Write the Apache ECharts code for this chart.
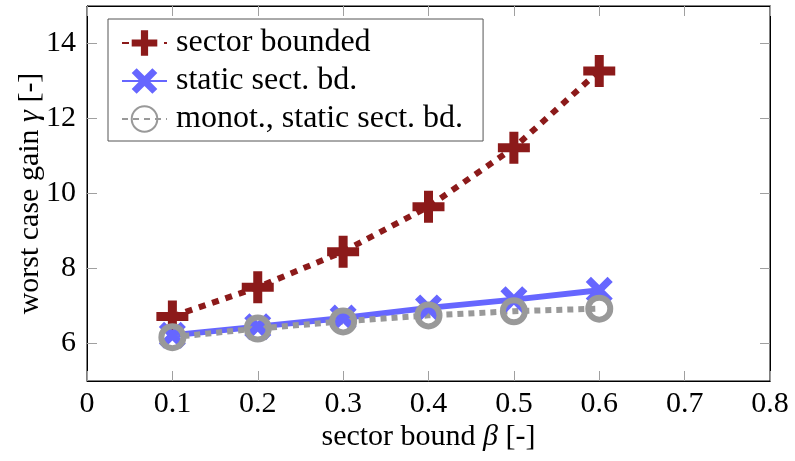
<!DOCTYPE html>
<html><head><meta charset="utf-8">
<script src="https://cdn.jsdelivr.net/npm/echarts@6/dist/echarts.min.js"></script>
<style>html,body{margin:0;padding:0;background:#fff}#c{width:795px;height:461px}</style>
</head><body><div id="c"></div>
<script>
const xValues = [0.1, 0.2, 0.3, 0.4, 0.5, 0.6];
const sectorBounded = [6.72, 7.5, 8.45, 9.65, 11.22, 13.27];
const staticSect = [6.22, 6.45, 6.68, 6.95, 7.17, 7.42];
const monotStatic = [6.17, 6.4, 6.59, 6.75, 6.86, 6.93];
const seriesNames = ['sector bounded', 'static sect. bd.', 'monot., static sect. bd.'];
const yTicks = [6, 8, 10, 12, 14];

const FONT = 'Liberation Serif';
const plusPath = 'path://M-4.5,-16h9v11.5h11.5v9h-11.5v11.5h-9v-11.5h-11.5v-9h11.5z';
const xPath = 'path://M-8,-13L0,-5L8,-13L13,-8L5,0L13,8L8,13L0,5L-8,13L-13,8L-5,0L-13,-8Z';
const pairs = arr => xValues.map((x, i) => [x, arr[i]]);

const tickLine = {color: '#a0a0a0', width: 1};
const xTick = {show: true, inside: true, length: 10, lineStyle: tickLine};
const yTick = {show: true, inside: true, length: 10, lineStyle: tickLine, customValues: yTicks};
const richName = {a: {fontFamily: FONT, fontSize: 30, color: '#000'}, b: {fontFamily: FONT, fontSize: 30, fontStyle: 'italic', color: '#000'}};
const chart = echarts.init(document.getElementById('c'));
chart.setOption({
  animation: false,
  grid: {left: 87, right: 25, top: 6, bottom: 80, show: true, borderColor: '#000', borderWidth: 1,
    containLabel: false, outerBoundsMode: 'none'},
  legend: {
    orient: 'vertical', left: 108, top: 19,
    data: seriesNames,
    itemWidth: 45, itemHeight: 32, itemGap: 6,
    padding: [8, 20, 6, 13],
    borderColor: '#555', borderWidth: 1, backgroundColor: '#fff',
    textStyle: {fontFamily: FONT, fontSize: 32, color: '#000', padding: [0, 0, 0, 4]}
  },
  xAxis: [{
    type: 'value', min: 0, max: 0.8, interval: 0.1,
    axisLine: {show: true, onZero: false, lineStyle: {color: '#000'}},
    axisTick: xTick, splitLine: {show: false},
    axisLabel: {fontFamily: FONT, fontSize: 30, color: '#000', margin: 8},
    name: '{a|sector bound }{b|β}{a| [-]}', nameLocation: 'middle', nameGap: 41, nameMoveOverlap: false,
    nameTextStyle: {rich: richName}
  }, {
    type: 'value', position: 'top', min: 0, max: 0.8, interval: 0.1,
    axisLine: {show: true, onZero: false, lineStyle: {color: '#000'}}, axisTick: xTick,
    axisLabel: {show: false}, splitLine: {show: false}
  }],
  yAxis: [{
    type: 'value', position: 'left', min: 5, max: 15,
    axisLine: {show: true, onZero: false, lineStyle: {color: '#000'}},
    axisTick: yTick, splitLine: {show: false},
    axisLabel: {fontFamily: FONT, fontSize: 30, color: '#000', margin: 11, customValues: yTicks},
    name: '{a|worst case gain }{b|γ}{a| [-]}', nameLocation: 'middle', nameGap: 42, nameRotate: 90, nameMoveOverlap: false,
    nameTextStyle: {rich: richName}
  }, {
    type: 'value', position: 'right', min: 5, max: 15,
    axisLine: {show: true, onZero: false, lineStyle: {color: '#000'}},
    axisTick: yTick, splitLine: {show: false},
    axisLabel: {show: false}
  }],
  series: [{
    name: seriesNames[0], type: 'line', data: pairs(sectorBounded),
    symbol: plusPath, symbolSize: 32,
    itemStyle: {color: '#8c1a1a'},
    lineStyle: {color: '#8c1a1a', width: 6, type: [7, 7], cap: 'butt'}
  }, {
    name: seriesNames[1], type: 'line', data: pairs(staticSect),
    symbol: xPath, symbolSize: 27,
    itemStyle: {color: '#6666ff'},
    lineStyle: {color: '#6666ff', width: 6, type: 'solid'}
  }, {
    name: seriesNames[2], type: 'line', data: pairs(monotStatic),
    symbol: 'circle', symbolSize: 22,
    itemStyle: {color: 'rgba(0,0,0,0)', borderColor: '#999999', borderWidth: 6},
    lineStyle: {color: '#999999', width: 6, type: [6, 5], cap: 'butt'}
  }]
});
</script></body></html>
